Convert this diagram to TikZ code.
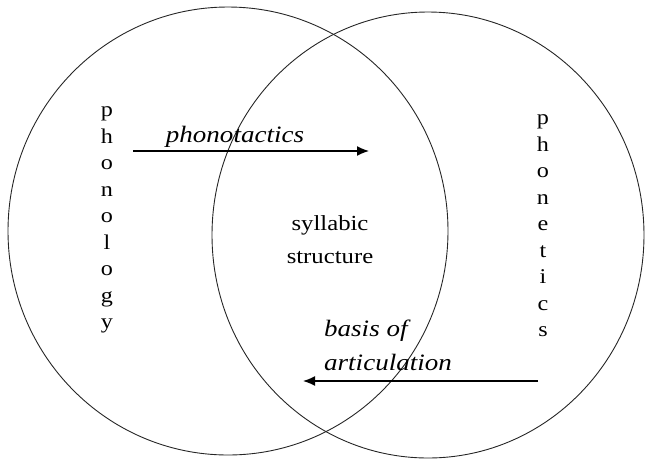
\documentclass[tikz,border=0pt]{standalone}
\usepackage{fontspec}
\setmainfont{Liberation Serif}[FakeStretch=1.15]
\usetikzlibrary{arrows.meta}

\begin{document}
\begin{tikzpicture}[x=1pt, y=-1pt,
        ring/.style={draw=black!85, line width=0.9pt},
        flow/.style={-{Latex[length=12pt,width=10pt]}, line width=1.4pt},
        letters/.style={align=center, inner sep=0pt, font=\fontsize{21}{26.5}\selectfont},
        tag/.style={inner sep=0pt, font=\fontsize{23.5}{34}\selectfont\itshape},
        core/.style={align=center, inner sep=0pt, font=\fontsize{21.5}{33}\selectfont}]
        \useasboundingbox (0,0) rectangle (646,459);
        \draw[ring] (228,231) ellipse (220 and 224);
        \draw[ring] (428,235) ellipse (216 and 223);

        \node[letters] (phonology) at (107,220) {p\\h\\o\\n\\o\\l\\o\\g\\y};
        \node[letters] (phonetics) at (543,226) {p\\h\\o\\n\\e\\t\\i\\c\\s};
        \node[core] (syllabic) at (330,240) {syllabic\\structure};

        \node[tag] (phonotactics) at (235,137) {phonotactics};
        \coordinate (tacticsstart) at (133,151);
        \coordinate (tacticsend) at (369,151);
        \draw[flow] (tacticsstart) -- (tacticsend);

        \node[tag, align=left, anchor=west] (basis) at (324,345) {basis of\\articulation};
        \coordinate (basisstart) at (538,381);
        \coordinate (basisend) at (303,381);
        \draw[flow] (basisstart) -- (basisend);
\end{tikzpicture}
\end{document}
